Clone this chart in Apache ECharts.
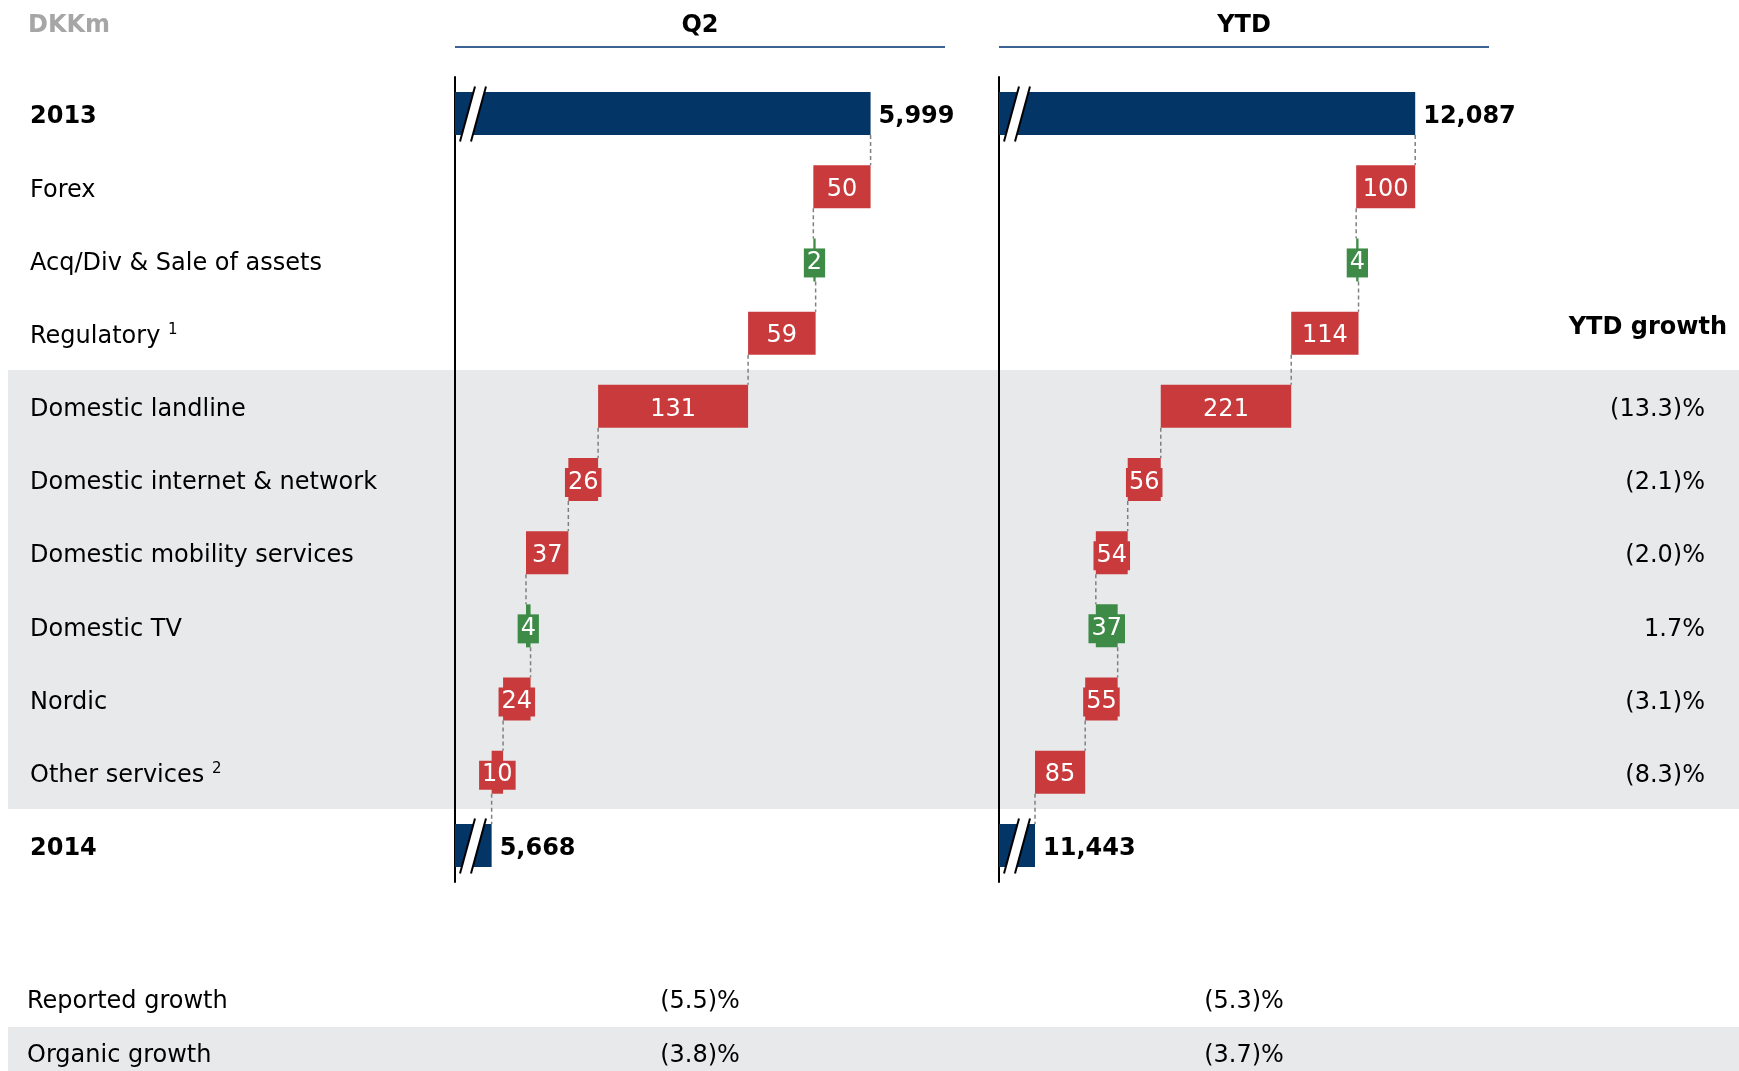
<!DOCTYPE html>
<html>
<head>
<meta charset="utf-8">
<script src="https://cdn.jsdelivr.net/npm/echarts@6/dist/echarts.min.js"></script>
<style>
  html, body { margin: 0; padding: 0; background: #fff; }
  #chart { width: 1739px; height: 1071px; }
</style>
</head>
<body>
<div id="chart"></div>
<script>
  // data
  const categories = ['2013', 'Forex', 'Acq/Div & Sale of assets', 'Regulatory', 'Domestic landline',
    'Domestic internet & network', 'Domestic mobility services', 'Domestic TV', 'Nordic', 'Other services', '2014'];
  const q2Values = [5999, -50, 2, -59, -131, -26, -37, 4, -24, -10, 5668];
  const ytdValues = [12087, -100, 4, -114, -221, -56, -54, 37, -55, -85, 11443];
  const ytdGrowth = ['', '', '', '', '(13.3)%', '(2.1)%', '(2.0)%', '1.7%', '(3.1)%', '(8.3)%', ''];
  const summaryLabels = ['Reported growth', 'Organic growth'];
  const summaryQ2 = ['(5.5)%', '(3.8)%'];
  const summaryYtd = ['(5.3)%', '(3.7)%'];
  const q2Range = [5636, 6064];
  const ytdRange = [11382, 12212];

  const FONT = 'DejaVu Sans';
  const NAVY = '#033566', RED = '#c83a3b', GREEN = '#3d8b47';
  const BAR_H = 43;
  const DY = 3.5; // text sits a little low in the original

  // build floating bars for a waterfall
  function waterfall(values) {
    const last = values.length - 1;
    let run = values[0];
    const base = [], size = [], ends = [];
    values.forEach((v, i) => {
      if (i === 0 || i === last) { base.push(0); size.push(v); run = v; }
      else if (v < 0) { base.push(run + v); size.push(-v); run += v; }
      else { base.push(run); size.push(v); run += v; }
      ends.push(run);
    });
    return { base, size, ends };
  }

  function panelSeries(values, range, idx) {
    const w = waterfall(values);
    const last = values.length - 1;
    const items = w.size.map((s, i) => {
      const total = (i === 0 || i === last);
      const color = total ? NAVY : (values[i] < 0 ? RED : GREEN);
      return {
        value: s,
        itemStyle: { color: color },
        label: total ? {
          show: true, position: 'right', distance: 8, offset: [0, DY],
          formatter: values[i].toLocaleString('en-US'),
          color: '#000', fontWeight: 'bold', fontSize: 24, fontFamily: FONT
        } : {
          show: true, position: 'inside', offset: [0, 3],
          formatter: String(Math.abs(values[i])),
          color: '#fff', fontSize: 24, fontFamily: FONT, lineHeight: 24,
          backgroundColor: color, padding: [3, 3, 2, 3]
        }
      };
    });
    const stack = 'wf' + idx;
    return [
      {
        type: 'bar', stack: stack, xAxisIndex: idx, yAxisIndex: idx, barWidth: BAR_H,
        silent: true, itemStyle: { color: 'transparent' }, data: w.base
      },
      {
        type: 'bar', stack: stack, xAxisIndex: idx, yAxisIndex: idx, barWidth: BAR_H,
        data: items
      },
      {
        // dashed connectors between bars
        type: 'custom', xAxisIndex: idx, yAxisIndex: idx, z: 1, silent: true,
        data: w.ends.slice(0, last).map((e, i) => [e, i]),
        encode: { x: 0, y: 1 },
        renderItem: function (params, api) {
          const p1 = api.coord([api.value(0), api.value(1)]);
          const p2 = api.coord([api.value(0), api.value(1) + 1]);
          return {
            type: 'line',
            shape: { x1: p1[0], y1: p1[1] + BAR_H / 2, x2: p2[0], y2: p2[1] - BAR_H / 2 },
            style: { stroke: '#808080', lineWidth: 1.5, lineDash: [4, 3] }
          };
        }
      },
      {
        // axis break marks on the total bars
        type: 'custom', xAxisIndex: idx, yAxisIndex: idx, z: 5, silent: true,
        data: [[range[0], 0], [range[0], last]],
        encode: { x: 0, y: 1 },
        renderItem: function (params, api) {
          const p = api.coord([api.value(0), api.value(1)]);
          const x = p[0], y = p[1];
          return {
            type: 'group',
            children: [
              { type: 'polygon', shape: { points: [[x + 20, y - 27], [x + 31, y - 27], [x + 16, y + 28], [x + 5, y + 28]] },
                style: { fill: '#fff' } },
              { type: 'line', shape: { x1: x + 20, y1: y - 27, x2: x + 5, y2: y + 28 }, style: { stroke: '#000', lineWidth: 2 } },
              { type: 'line', shape: { x1: x + 31, y1: y - 27, x2: x + 16, y2: y + 28 }, style: { stroke: '#000', lineWidth: 2 } }
            ]
          };
        }
      }
    ];
  }

  const chart = echarts.init(document.getElementById('chart'));

  const grids = [
    { left: 455, top: 77, width: 490, height: 805 },
    { left: 999, top: 77, width: 490, height: 805 }
  ];

  const baseY = {
    type: 'category', inverse: true, data: categories,
    axisTick: { show: false },
    axisLine: { show: true, lineStyle: { color: '#000', width: 2 } },
    splitLine: { show: false }
  };

  const graphic = [
    { type: 'rect', z: -10, shape: { x: 8, y: 370, width: 1731, height: 439 }, style: { fill: '#e8e9eb' } },
    { type: 'rect', z: -10, shape: { x: 8, y: 1027, width: 1731, height: 44 }, style: { fill: '#e8e9eb' } },
    { type: 'line', shape: { x1: 455, y1: 47, x2: 945, y2: 47 }, style: { stroke: '#3a6393', lineWidth: 2 } },
    { type: 'line', shape: { x1: 999, y1: 47, x2: 1489, y2: 47 }, style: { stroke: '#3a6393', lineWidth: 2 } },
    { type: 'text', x: 28, y: 22 + DY, style: { text: 'DKKm', fill: '#a6a6a6', font: 'bold 24px ' + FONT, textVerticalAlign: 'middle' } },
    { type: 'text', x: 700, y: 22 + DY, style: { text: 'Q2', fill: '#000', font: 'bold 24px ' + FONT, textAlign: 'center', textVerticalAlign: 'middle' } },
    { type: 'text', x: 1244, y: 22 + DY, style: { text: 'YTD', fill: '#000', font: 'bold 24px ' + FONT, textAlign: 'center', textVerticalAlign: 'middle' } }
  ];
  summaryLabels.forEach((lab, i) => {
    const y = 998 + DY + i * 54;
    graphic.push(
      { type: 'text', x: 27, y: y, style: { text: lab, fill: '#000', font: '24px ' + FONT, textVerticalAlign: 'middle' } },
      { type: 'text', x: 700, y: y, style: { text: summaryQ2[i], fill: '#000', font: '24px ' + FONT, textAlign: 'center', textVerticalAlign: 'middle' } },
      { type: 'text', x: 1244, y: y, style: { text: summaryYtd[i], fill: '#000', font: '24px ' + FONT, textAlign: 'center', textVerticalAlign: 'middle' } }
    );
  });

  chart.setOption({
    animation: false,
    backgroundColor: '#fff',
    grid: grids,
    xAxis: [
      { type: 'value', gridIndex: 0, min: q2Range[0], max: q2Range[1], show: false },
      { type: 'value', gridIndex: 1, min: ytdRange[0], max: ytdRange[1], show: false }
    ],
    yAxis: [
      Object.assign({}, baseY, {
        gridIndex: 0,
        axisLabel: {
          interval: 0, align: 'left', margin: 425, padding: [7, 0, 0, 0],
          color: '#000', fontSize: 24, fontFamily: FONT,
          formatter: function (val, i) {
            if (i === 0 || i === categories.length - 1) return '{b|' + val + '}';
            if (i === 3) return val + ' {sup|1}';
            if (i === 9) return val + ' {sup|2}';
            return val;
          },
          rich: {
            b: { fontWeight: 'bold', fontSize: 24, fontFamily: FONT, color: '#000' },
            sup: { fontSize: 15, fontFamily: FONT, color: '#000', padding: [0, 0, 14, 0] }
          }
        }
      }),
      Object.assign({}, baseY, { gridIndex: 1, axisLabel: { show: false } }),
      {
        type: 'category', inverse: true, gridIndex: 1, position: 'right', data: ytdGrowth,
        axisTick: { show: false }, axisLine: { show: false },
        axisLabel: {
          interval: 0, align: 'right', margin: 238, padding: [7, 0, 0, 0],
          formatter: function (val, i) {
            if (i === 3) return '{h|YTD growth}';
            return val ? '{v|' + val + '}' : '';
          },
          rich: {
            h: { fontWeight: 'bold', fontSize: 24, fontFamily: FONT, color: '#000', padding: [0, 0, 18, 0] },
            v: { fontSize: 24, fontFamily: FONT, color: '#000', padding: [0, 22, 0, 0] }
          }
        }
      }
    ],
    graphic: graphic,
    series: panelSeries(q2Values, q2Range, 0).concat(panelSeries(ytdValues, ytdRange, 1))
  });
</script>
</body>
</html>
